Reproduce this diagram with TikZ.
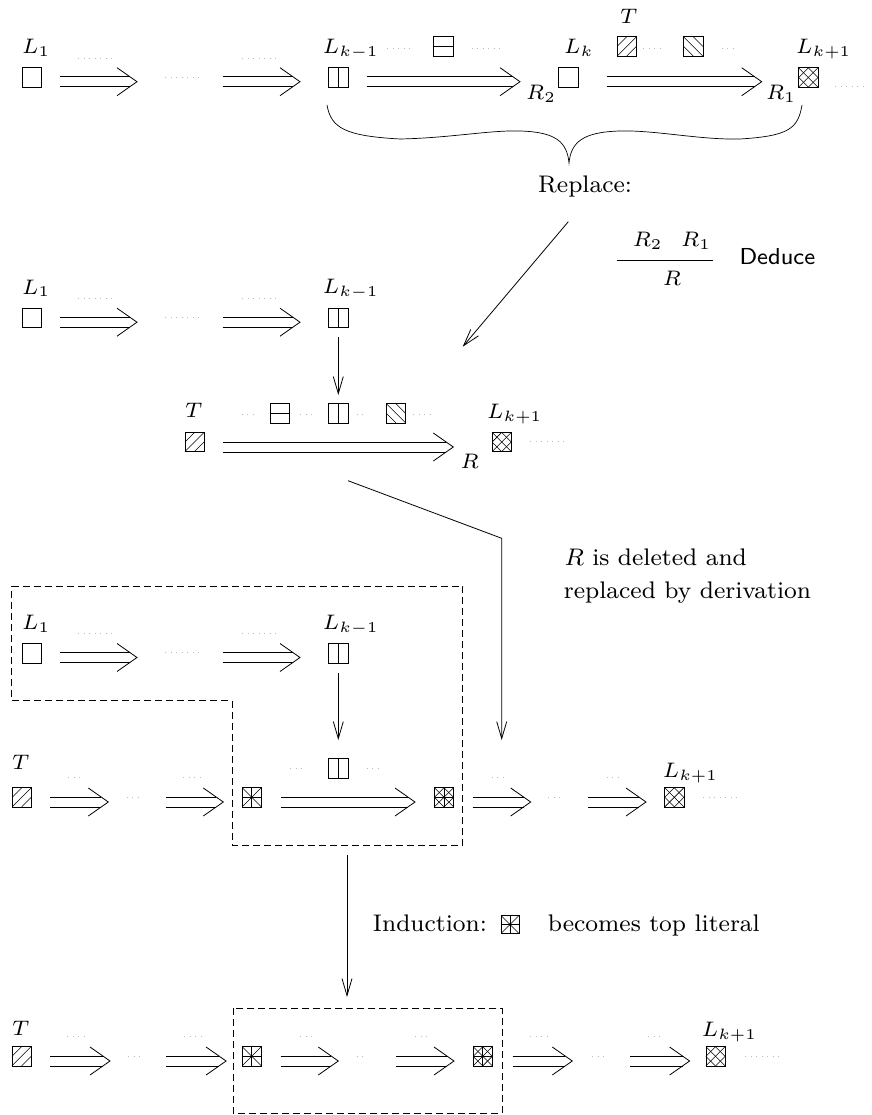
\documentclass[tikz,border=0pt]{standalone}
\usetikzlibrary{arrows.meta}

% one stroke of a literal's fill pattern, between two anchors of the box
\newcommand\pline[2]{\draw[hl] (path picture bounding box.#1) -- (path picture bounding box.#2);}
\newcommand\midpt{\fill (path picture bounding box.center) circle (1.3pt);}

% double-shafted derivation arrow from coordinate #1 to tip #2
\newcommand\darr[2]{%
  \draw ([yshift=4.9pt]#1) -- ([xshift=-7pt,yshift=4.9pt]#2);
  \draw ([yshift=-4.9pt]#1) -- ([xshift=-7pt,yshift=-4.9pt]#2);
  \draw (#2) ++(-20,-14) -- (#2) -- ++(-20,14);}

% the chain L_1 => ... => L_{k-1}, with prefix #1 for names, shifted down by #2
\newcommand\chainrow[2]{%
  \node[lit] (#1A) at (31.5,{77.5+#2}) {};
  \node[lab] at (21,{53.5+#2}) {$L_1$};
  \draw[dots] (78,{58+#2}) -- (113,{58+#2});
  \draw[dots] (165,{77+#2}) -- (200,{77+#2});
  \draw[dots] (242,{58+#2}) -- (277,{58+#2});
  \coordinate (#1s1) at (60,{81.7+#2});
  \coordinate (#1t1) at (137,{81.7+#2});
  \coordinate (#1s2) at (222.7,{81.7+#2});
  \coordinate (#1t2) at (300,{81.7+#2});
  \darr{#1s1}{#1t1}
  \darr{#1s2}{#1t2}
  \node[vs] (#1B) at (338.3,{77.5+#2}) {};
  \node[lab] at (321.7,{53.3+#2}) {$L_{k-1}$};}

\begin{document}
\begin{tikzpicture}[x=1pt,y=-1pt,line width=0.8pt,
  lit/.style={draw, minimum size=19.2pt, inner sep=0pt, outer sep=0pt},
  hl/.style={line width=0.55pt},
  vs/.style={lit, path picture={\pline{north}{south}}},
  hs/.style={lit, path picture={\pline{west}{east}}},
  ne/.style={lit, path picture={\pline{south west}{north east}\pline{west}{north}\pline{south}{east}}},
  nw/.style={lit, path picture={\pline{north west}{south east}\pline{west}{south}\pline{north}{east}}},
  xx/.style={lit, path picture={\pline{south west}{north east}\pline{west}{north}\pline{south}{east}%
      \pline{north west}{south east}\pline{west}{south}\pline{north}{east}}},
  st/.style={lit, path picture={\pline{north}{south}\pline{west}{east}%
      \pline{south west}{north east}\pline{north west}{south east}\midpt}},
  xp/.style={lit, path picture={\pline{south west}{north east}\pline{west}{north}\pline{south}{east}%
      \pline{north west}{south east}\pline{west}{south}\pline{north}{east}%
      \pline{north}{south}\pline{west}{east}\midpt}},
  lab/.style={anchor=base west, inner sep=0pt, scale=3, font=\fontsize{7}{8}\selectfont},
  txt/.style={anchor=base west, inner sep=0pt, scale=3, font=\fontsize{8}{10}\selectfont},
  dots/.style={gray!55, line width=0.9pt, dash pattern=on 0.9pt off 4.6pt},
  dsh/.style={line width=0.8pt, dash pattern=on 7pt off 4pt},
  sarr/.style={-{Straight Barb[length=17pt,width=10pt]}}]
\useasboundingbox (0,0) rectangle (871,1115);

% ---------- first line: the two resolution steps R2 and R1 ----------
\chainrow{a}{0}
\draw[dots] (387,48) -- (413,48);
\node[hs] (aH) at (443.3,46.5) {};
\draw[dots] (471.7,48) -- (500,48);
\coordinate (as3) at (366.7,81.7);
\coordinate (at3) at (520,81.7);
\darr{as3}{at3}
\node[lab] at (525,100) {$R_2$};
\node[lit] (aLk) at (568.3,77.5) {};
\node[lab] at (563,53.3) {$L_k$};
\node[lab] at (619,24) {$T$};
\node[ne] (aT) at (626.7,46.5) {};
\draw[dots] (643,48) -- (660,48);
\node[nw] (aW) at (693.3,46.5) {};
\draw[dots] (721.7,48) -- (736.7,48);
\coordinate (as4) at (606.7,81.7);
\coordinate (at4) at (761.7,81.7);
\darr{as4}{at4}
\node[lab] at (765,100) {$R_1$};
\node[xx] (aLn) at (808.3,77.5) {};
\node[lab] at (795,53.3) {$L_{k+1}$};
\draw[dots] (835,86) -- (863,86);

% brace under R2 and R1
\draw[line width=0.7pt] (327,105) .. controls (331,128) and (345,136) .. (400,139)
  .. controls (450,138) and (490,130) .. (520,131)
  .. controls (556,132) and (567,142) .. (569,163)
  .. controls (571,142) and (583,132) .. (620,131)
  .. controls (655,130) and (700,140) .. (740,139)
  .. controls (790,136) and (798,128) .. (802,105);
\node[txt] (rep) at (537,193) {Replace:};

% the deduction rule
\node[lab] (fr2) at (631.7,246.7) {$R_2$};
\node[lab] (fr1) at (680,246.7) {$R_1$};
\draw[line width=0.7pt] (616.7,260) -- (712.7,260);
\node[lab] (fr) at (661.7,285) {$R$};
\node[txt, font=\fontsize{7.7}{10}\sffamily] (ded) at (738.3,264.7) {Deduce};

\coordinate (d1) at (568.3,221.7);
\coordinate (d2) at (462.7,346.7);
\draw[sarr] (d1) -- (d2);

% ---------- second line: R replaces the two steps ----------
\chainrow{b}{240.5}
\node[lab] at (184,417) {$T$};
\node[ne] (cT) at (194.5,442) {};
\draw[dots] (241.7,414) -- (253,414);
\node[hs] (cH) at (280,413.3) {};
\draw[dots] (300,414) -- (311.7,414);
\node[vs] (cV) at (338.3,413.3) {};
\draw[dots] (356.7,414) -- (366.7,414);
\node[nw] (cW) at (396,413.3) {};
\draw[dots] (413,414) -- (430,414);
\coordinate (cs1) at (222.7,447);
\coordinate (ct1) at (453.3,447);
\darr{cs1}{ct1}
\node[lab] at (459.3,468) {$R$};
\node[xx] (cL) at (501.7,442) {};
\node[lab] at (486,418.3) {$L_{k+1}$};
\draw[dots] (530,441.7) -- (563.3,441.7);
\draw[sarr] ([yshift=-9pt]bB.south) -- ([yshift=8.7pt]cV.north);

\coordinate (e1) at (348,480.7);
\coordinate (e2) at (501.7,538.3);
\coordinate (e3) at (501.7,740);
\draw[sarr] (e1) -- (e2) -- (e3);
\node[txt] at (563.3,565) {$R$ is deleted and};
\node[txt] at (562.7,598.3) {replaced by derivation};

% ---------- third line: R is replaced by its derivation ----------
\chainrow{f}{575.8}
\draw[dsh] (11.7,586) -- (462.7,586) -- (462.7,845) -- (232,845) -- (232,700.7) -- (11.7,700.7) -- cycle;
\node[lab] at (11,769) {$T$};
\node[ne] (gT) at (21.7,797.3) {};
\coordinate (gs1) at (50,802);
\coordinate (gt1) at (108.3,802);
\coordinate (gs2) at (165.7,802);
\coordinate (gt2) at (223.3,802);
\darr{gs1}{gt1}
\darr{gs2}{gt2}
\draw[dots] (68.3,777.7) -- (83.3,777.7);
\draw[dots] (126.7,797.3) -- (140,797.3);
\draw[dots] (183.3,777.7) -- (200,777.7);
\node[st] (gS) at (251.7,797.3) {};
\draw[dots] (290,768.3) -- (303.3,768.3);
\node[vs] (gV) at (338.3,768.3) {};
\draw[dots] (366.7,768.3) -- (381.7,768.3);
\coordinate (gs3) at (281,802);
\coordinate (gt3) at (415,802);
\darr{gs3}{gt3}
\node[xp] (gX) at (444,797.3) {};
\coordinate (gs4) at (472.7,802);
\coordinate (gt4) at (530.7,802);
\coordinate (gs5) at (588.3,802);
\coordinate (gt5) at (646,802);
\darr{gs4}{gt4}
\darr{gs5}{gt5}
\draw[dots] (491.7,777.7) -- (506.7,777.7);
\draw[dots] (548.3,797.3) -- (563.3,797.3);
\draw[dots] (606.7,777.7) -- (621.7,777.7);
\node[xx] (gL) at (674.3,797.3) {};
\node[lab] at (661.7,777) {$L_{k+1}$};
\draw[dots] (703.3,797.3) -- (736.7,797.3);
\draw[sarr] ([yshift=-10pt]fB.south) -- ([yshift=18.7pt]gV.north);

% ---------- induction step ----------
\coordinate (h1) at (347,855);
\coordinate (h2) at (347,997);
\draw[sarr] (h1) -- (h2);
\node[txt] at (371.7,931.7) {Induction:};
\node[st, minimum size=18pt] (iS) at (510,924.5) {};
\node[txt] at (546.7,931.7) {becomes top literal};

% ---------- last line ----------
\node[lab] at (11,1035) {$T$};
\node[ne] (kT) at (21.5,1056.3) {};
\coordinate (ks1) at (50.3,1061);
\coordinate (kt1) at (110,1061);
\coordinate (ks2) at (166.4,1061);
\coordinate (kt2) at (226.1,1061);
\darr{ks1}{kt1}
\darr{ks2}{kt2}
\draw[dots] (67,1036.7) -- (84,1036.7);
\draw[dots] (128.4,1056) -- (142.4,1056);
\draw[dots] (184,1036.7) -- (201,1036.7);
\draw[dsh] (233,1008.3) rectangle (502,1113);
\node[st] (kS) at (251.7,1056.3) {};
\coordinate (ks3) at (280.7,1061);
\coordinate (kt3) at (338.3,1061);
\coordinate (ks4) at (396,1061);
\coordinate (kt4) at (454,1061);
\darr{ks3}{kt3}
\darr{ks4}{kt4}
\draw[dots] (300,1036) -- (315,1036);
\draw[dots] (356.7,1056) -- (366.7,1056);
\draw[dots] (415,1036) -- (430,1036);
\node[xp] (kX) at (482.7,1056.3) {};
\coordinate (ks5) at (512.6,1061);
\coordinate (kt5) at (572.3,1061);
\coordinate (ks6) at (630,1061);
\coordinate (kt6) at (689.6,1061);
\darr{ks5}{kt5}
\darr{ks6}{kt6}
\draw[dots] (530,1036.7) -- (547,1036.7);
\draw[dots] (592,1056) -- (606,1056);
\draw[dots] (648,1036.7) -- (664,1036.7);
\node[xx] (kL) at (715.5,1056.3) {};
\node[lab] at (700.7,1036) {$L_{k+1}$};
\draw[dots] (745,1056) -- (779,1056);
\end{tikzpicture}
\end{document}
